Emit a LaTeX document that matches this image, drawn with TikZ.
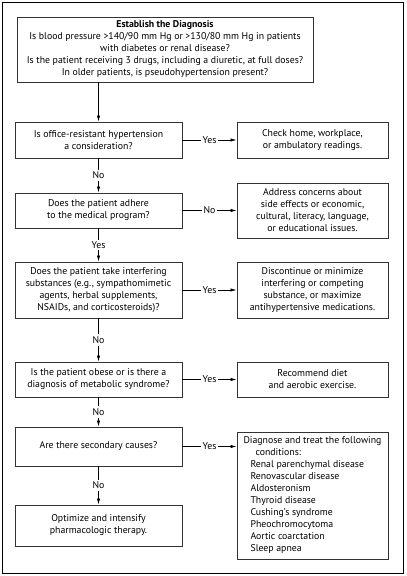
\documentclass[tikz,border=0pt]{standalone}
\usepackage{fontspec}
\setmainfont{PT Sans}
\usetikzlibrary{arrows.meta}
\tikzset{
  box/.style={draw=black!80, line width=0.8pt, align=center, inner sep=2pt,
    font=\fontsize{9.8}{12}\selectfont, minimum width=167pt},
  rbox/.style={box, minimum width=151pt},
  arr/.style={line width=0.6pt, -{Latex[length=6pt,width=3.2pt]}},
  lbl/.style={fill=white, inner sep=2pt, font=\fontsize{9.8}{12}\selectfont},
  frame/.style={draw=black, line width=1pt}
}
\begin{document}
\begin{tikzpicture}[x=1pt,y=-1pt]
\useasboundingbox (0,0) rectangle (407,576);
\draw[frame] (2,2) rectangle (403,573);

\node[box, minimum width=296pt, minimum height=65pt] (top) at (165,49.5)
  {\textbf{Establish the Diagnosis}\\
   Is blood pressure >140/90 mm Hg or >130/80 mm Hg in patients\\
   with diabetes or renal disease?\\
   Is the patient receiving 3 drugs, including a diuretic, at full doses?\\
   In older patients, is pseudohypertension present?};

\node[box, minimum height=36pt] (b1) at (98.5,140)
  {Is office-resistant hypertension\\ a consideration?};
\node[rbox, minimum height=36pt] (r1) at (312.5,140)
  {Check home, workplace,\\ or ambulatory readings.};

\node[box, minimum height=35pt] (b2) at (98.5,210.5)
  {Does the patient adhere\\ to the medical program?};
\node[rbox, minimum height=55pt] (r2) at (312.5,210.5)
  {Address concerns about\\ side effects or economic,\\ cultural, literacy, language,\\ or educational issues.};

\node[box, minimum height=56pt] (b3) at (98.5,290)
  {Does the patient take interfering\\ substances (e.g., sympathomimetic\\ agents, herbal supplements,\\ NSAIDs, and corticosteroids)?};
\node[rbox, minimum height=56pt] (r3) at (312.5,290)
  {Discontinue or minimize\\ interfering or competing\\ substance, or maximize\\ antihypertensive medications.};

\node[box, minimum height=35pt] (b4) at (98.5,379.5)
  {Is the patient obese or is there a\\ diagnosis of metabolic syndrome?};
\node[rbox, minimum height=35pt] (r4) at (312.5,379.5)
  {Recommend diet\\ and aerobic exercise.};

\node[box, minimum height=39pt] (b5) at (98.5,446.5)
  {Are there secondary causes?};
\node[rbox, minimum height=127pt, align=left] (r5) at (312.5,495.5)
  {Diagnose and treat the following\\
   \hspace*{12pt}conditions:\\
   \hspace*{7pt}Renal parenchymal disease\\
   \hspace*{7pt}Renovascular disease\\
   \hspace*{7pt}Aldosteronism\\
   \hspace*{7pt}Thyroid disease\\
   \hspace*{7pt}Cushing's syndrome\\
   \hspace*{7pt}Pheochromocytoma\\
   \hspace*{7pt}Aortic coarctation\\
   \hspace*{7pt}Sleep apnea};

\node[box, minimum height=41pt] (b6) at (98.5,525.5)
  {Optimize and intensify\\ pharmacologic therapy.};

\draw[arr] (top.south -| b1.north) -- (b1.north);
\draw[arr] (b1.south) -- node[lbl]{No} (b2.north);
\draw[arr] (b2.south) -- node[lbl]{Yes} (b3.north);
\draw[arr] (b3.south) -- node[lbl]{No} (b4.north);
\draw[arr] (b4.south) -- node[lbl]{No} (b5.north);
\draw[arr] (b5.south) -- node[lbl]{No} (b6.north);

\draw[arr] (b1.east) -- node[lbl]{Yes} (r1.west);
\draw[arr] (b2.east) -- node[lbl]{No} (b2.east -| r2.west);
\draw[arr] (b3.east) -- node[lbl]{Yes} (r3.west);
\draw[arr] (b4.east) -- node[lbl]{Yes} (r4.west);
\draw[arr] (b5.east) -- node[lbl]{Yes} (b5.east -| r5.west);
\end{tikzpicture}
\end{document}
